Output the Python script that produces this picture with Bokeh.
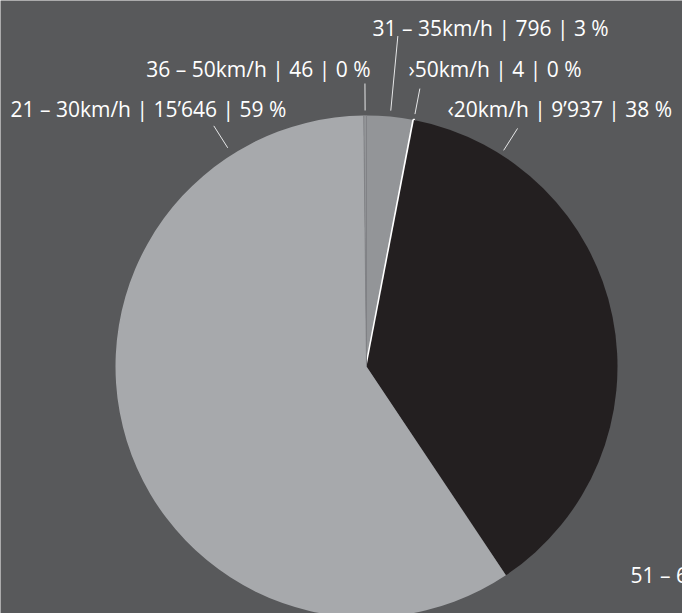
import math
from bokeh.plotting import figure
from bokeh.models import Range1d
from bokeh.core.properties import value
from bokeh.embed import file_html
from bokeh.resources import INLINE

# ---- data (clockwise from 12 o'clock) ----
categories = ["31 – 35km/h", "›50km/h", "‹20km/h", "51 – 60km/h", "21 – 30km/h", "36 – 50km/h"]
counts = [796, 4, 9937, 2, 15646, 46]
count_labels = ["796", "4", "9’937", "2", "15’646", "46"]
pct_labels = ["3 %", "0 %", "38 %", "0 %", "59 %", "0 %"]

# ---- styles / layout ----
BG = "#58595b"
colors = ["#939598", "#ffffff", "#231f20", "#939598", "#a7a9ac", "#939598"]
edge_colors = [None, "#ffffff", None, None, None, "#808285"]
edge_widths = [0, 3, 0, 0, 0, 0.8]
R = 251
# label layout: (text x, text y, align, leader angle deg clockwise from top or None, r_in, r_out)
label_layout = [
    (6, 339, "left", "mid", 257, 332),
    (42, 298, "left", "mid", 257, 283),
    (81, 258, "left", 32.4, 256, 282),
    (264, -208, "left", None, 0, 0),
    (-356, 258, "left", -32.4, 259, 285),
    (4, 298, "right", "mid", 256, 283),
]
FONT = "Open Sans"
FSIZE = "21px"

W, H = 682, 613
CX, CY = 366, 366
p = figure(width=W, height=H, output_backend="svg", toolbar_location=None,
           x_range=Range1d(-CX, W - CX), y_range=Range1d(CY - H, CY),
           min_border=0, background_fill_color=BG, border_fill_color=BG,
           outline_line_color=None)
p.axis.visible = False
p.grid.visible = False

total = sum(counts)
theta = 0.0
mids = []
for i, c in enumerate(counts):
    span = c / total * 360.0
    a0, a1 = theta, theta + span
    mids.append((a0 + a1) / 2)
    kw = dict(fill_color=colors[i])
    if edge_colors[i]:
        kw.update(line_color=edge_colors[i], line_width=edge_widths[i])
    else:
        kw.update(line_color=None)
    p.wedge(x=0, y=0, radius=R, start_angle=math.radians(90 - a0),
            end_angle=math.radians(90 - a1), direction="clock", **kw)
    theta = a1

lx0, ly0, lx1, ly1 = [], [], [], []
for i, (x, y, align, ang, r0, r1) in enumerate(label_layout):
    text = f"{categories[i]} | {count_labels[i]} | {pct_labels[i]}"
    if ang is not None:
        a = mids[i] if ang == "mid" else ang
        rad = math.radians(a)
        lx0.append(r0 * math.sin(rad)); ly0.append(r0 * math.cos(rad))
        lx1.append(r1 * math.sin(rad)); ly1.append(r1 * math.cos(rad))
    p.text(x=[x], y=[y], text=[text], text_color="#ffffff", text_align=align,
           text_baseline="middle", text_font=value(FONT), text_font_size=FSIZE)

p.segment(x0=lx0, y0=ly0, x1=lx1, y1=ly1, line_color="#e6e7e8", line_width=1)

open("out.html", "w").write(file_html(p, INLINE))
